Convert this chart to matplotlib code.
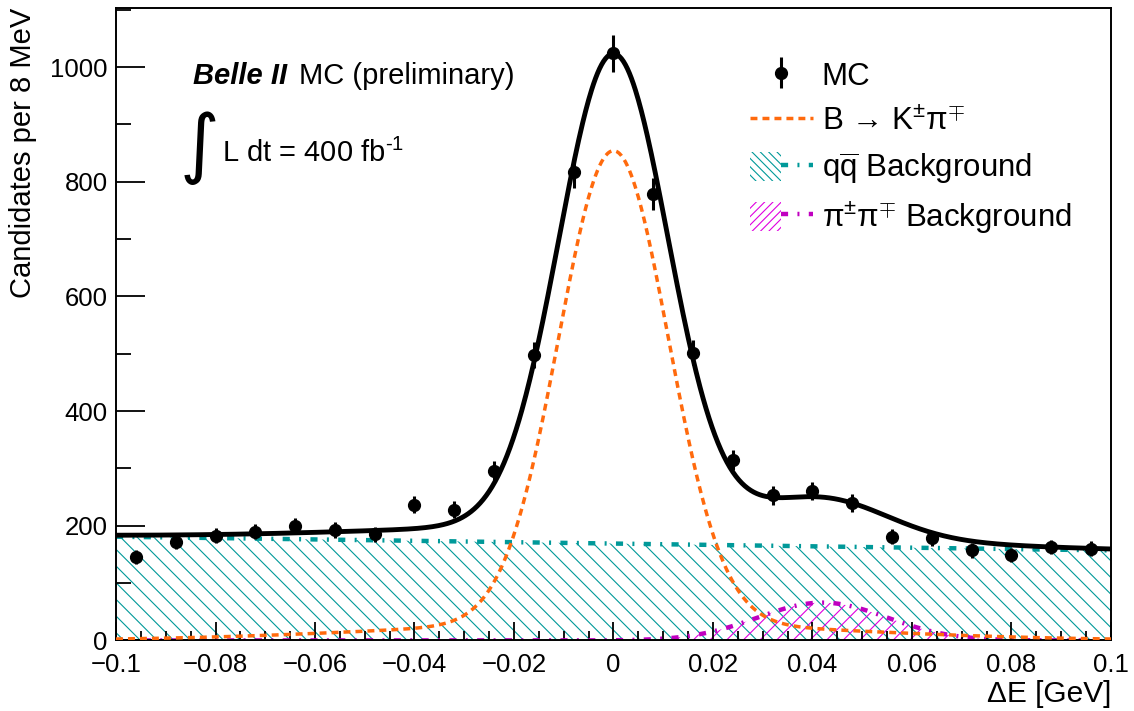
import numpy as np
import matplotlib
matplotlib.use("Agg")
import matplotlib.pyplot as plt
from matplotlib.patches import Patch
from matplotlib.lines import Line2D
from matplotlib.legend_handler import HandlerTuple
from matplotlib.ticker import MultipleLocator, FixedLocator, FixedFormatter

plt.rcParams['font.family'] = ['Liberation Sans', 'DejaVu Sans']
plt.rcParams['mathtext.fontset'] = 'custom'
plt.rcParams['mathtext.rm'] = 'Liberation Sans'
plt.rcParams['mathtext.it'] = 'Liberation Sans:italic'
plt.rcParams['mathtext.bf'] = 'Liberation Sans:bold'
plt.rcParams['hatch.linewidth'] = 0.8

# MC histogram, 25 bins of 8 MeV
bin_centers = [-0.096, -0.088, -0.080, -0.072, -0.064, -0.056, -0.048, -0.040,
               -0.032, -0.024, -0.016, -0.008, 0.000, 0.008, 0.016, 0.024,
               0.032, 0.040, 0.048, 0.056, 0.064, 0.072, 0.080, 0.088, 0.096]
counts = [146, 172, 183, 190, 200, 193, 185, 237, 228, 295, 498, 817, 1024,
          779, 502, 315, 253, 261, 240, 181, 178, 157, 149, 163, 160]

# fit components
sig_core_amp, sig_core_sigma = 824.0, 0.011
sig_tail_amp, sig_tail_sigma = 30.0, 0.045
sig_mean = 0.0
qq_left, qq_right = 181.0, 157.0
pipi_amp, pipi_mean, pipi_sigma = 66.0, 0.042, 0.013

xticks = [-0.1, -0.08, -0.06, -0.04, -0.02, 0.0, 0.02, 0.04, 0.06, 0.08, 0.1]
xticklabels = ['\u22120.1', '\u22120.08', '\u22120.06', '\u22120.04', '\u22120.02',
               '0', '0.02', '0.04', '0.06', '0.08', '0.1']

teal = '#009999'
magenta = '#c000c0'
orange = '#ff6a0d'


def gauss(x, a, m, s):
    return a * np.exp(-0.5 * ((x - m) / s) ** 2)


x = np.linspace(-0.1, 0.1, 1001)
sig = gauss(x, sig_core_amp, sig_mean, sig_core_sigma) + gauss(x, sig_tail_amp, sig_mean, sig_tail_sigma)
qq = qq_left + (qq_right - qq_left) * (x + 0.1) / 0.2
pipi = gauss(x, pipi_amp, pipi_mean, pipi_sigma)
total = sig + qq + pipi

fig = plt.figure(figsize=(11.34, 7.11), dpi=100)
ax = fig.add_axes([0.1023, 0.0992, 0.8774, 0.8896])

dashdot = (0, (1.6, 2.1, 0.45, 2.1))
sig_dash = (0, (2.0, 1.45))

ax.fill_between(x, 0, qq, facecolor='none', edgecolor=teal, hatch='\\\\', lw=0, zorder=1)
ax.fill_between(x, 0, pipi, facecolor='none', edgecolor='#e000e0', hatch='//', lw=0, zorder=1)
ax.plot(x, pipi, color=magenta, lw=3.2, ls=dashdot, zorder=2)
ax.plot(x, qq, color=teal, lw=3.2, ls=dashdot, zorder=2)
ax.plot(x, sig, color=orange, lw=2.5, ls=sig_dash, zorder=3)
ax.plot(x, total, color='black', lw=3.5, zorder=4)
eb = ax.errorbar(bin_centers, counts, yerr=np.sqrt(counts), fmt='o', color='black',
                 ms=8.5, elinewidth=2.2, capsize=0, zorder=5)

ax.set_xlim(-0.1, 0.1)
ax.set_ylim(0, 1103)

ax.xaxis.set_major_locator(FixedLocator(xticks))
ax.xaxis.set_major_formatter(FixedFormatter(xticklabels))
ax.xaxis.set_minor_locator(MultipleLocator(0.005))
ax.yaxis.set_major_locator(MultipleLocator(200))
ax.yaxis.set_minor_locator(MultipleLocator(100))
ax.tick_params(axis='both', which='both', direction='in', top=False, right=False,
               labelsize=18.5, width=1.3, colors='black')
ax.tick_params(axis='x', which='major', length=13, pad=9)
ax.tick_params(axis='x', which='minor', length=6.5)
ax.tick_params(axis='y', which='major', length=21, pad=6)
ax.tick_params(axis='y', which='minor', length=11)
for sp in ax.spines.values():
    sp.set_linewidth(1.4)

ax.set_xlabel('\u0394E [GeV]', fontsize=21.5, loc='right')
ax.xaxis.set_label_coords(1.0, -0.062)
ax.set_ylabel('Candidates per 8 MeV', fontsize=21, loc='top')
ax.yaxis.set_label_coords(-0.0794, 1.0)

ax.text(0.0774, 0.88, 'Belle II', transform=ax.transAxes, fontsize=21,
        fontweight='bold', fontstyle='italic', va='baseline')
ax.text(0.1835, 0.88, 'MC (preliminary)', transform=ax.transAxes, fontsize=21, va='baseline')
ax.text(0.0844, 0.779, '\u222b', transform=ax.transAxes, fontsize=55,
        family='DejaVu Sans', ha='center', va='center')
ax.text(0.1065, 0.7565, 'L dt = 400 fb$^{\\text{-1}}$', transform=ax.transAxes,
        fontsize=21, va='baseline')

h_qq = (Patch(facecolor='none', edgecolor=teal, hatch='\\\\\\\\', lw=0),
        Line2D([], [], color=teal, lw=3.2, ls=dashdot))
h_pipi = (Patch(facecolor='none', edgecolor='#e000e0', hatch='////', lw=0),
          Line2D([], [], color=magenta, lw=3.2, ls=dashdot))
h_sig = Line2D([], [], color=orange, lw=2.5, ls=sig_dash)
labels = ['MC', 'B \u2192 K$^{\\pm}$\u03c0$^{\\mp}$',
          'q$\\overline{\\mathrm{q}}$ Background', '\u03c0$^{\\pm}$\u03c0$^{\\mp}$ Background']
leg = fig.legend([eb, h_sig, h_qq, h_pipi], labels, loc='upper left',
                 bbox_to_anchor=(750 / 1134, 1 - 60 / 711), frameon=False,
                 fontsize=22.5, handlelength=2.0, handleheight=1.05,
                 handletextpad=0.3, labelspacing=0.42, borderpad=0, borderaxespad=0,
                 handler_map={tuple: HandlerTuple(ndivide=None)})

fig.savefig('out.png', dpi=100)
